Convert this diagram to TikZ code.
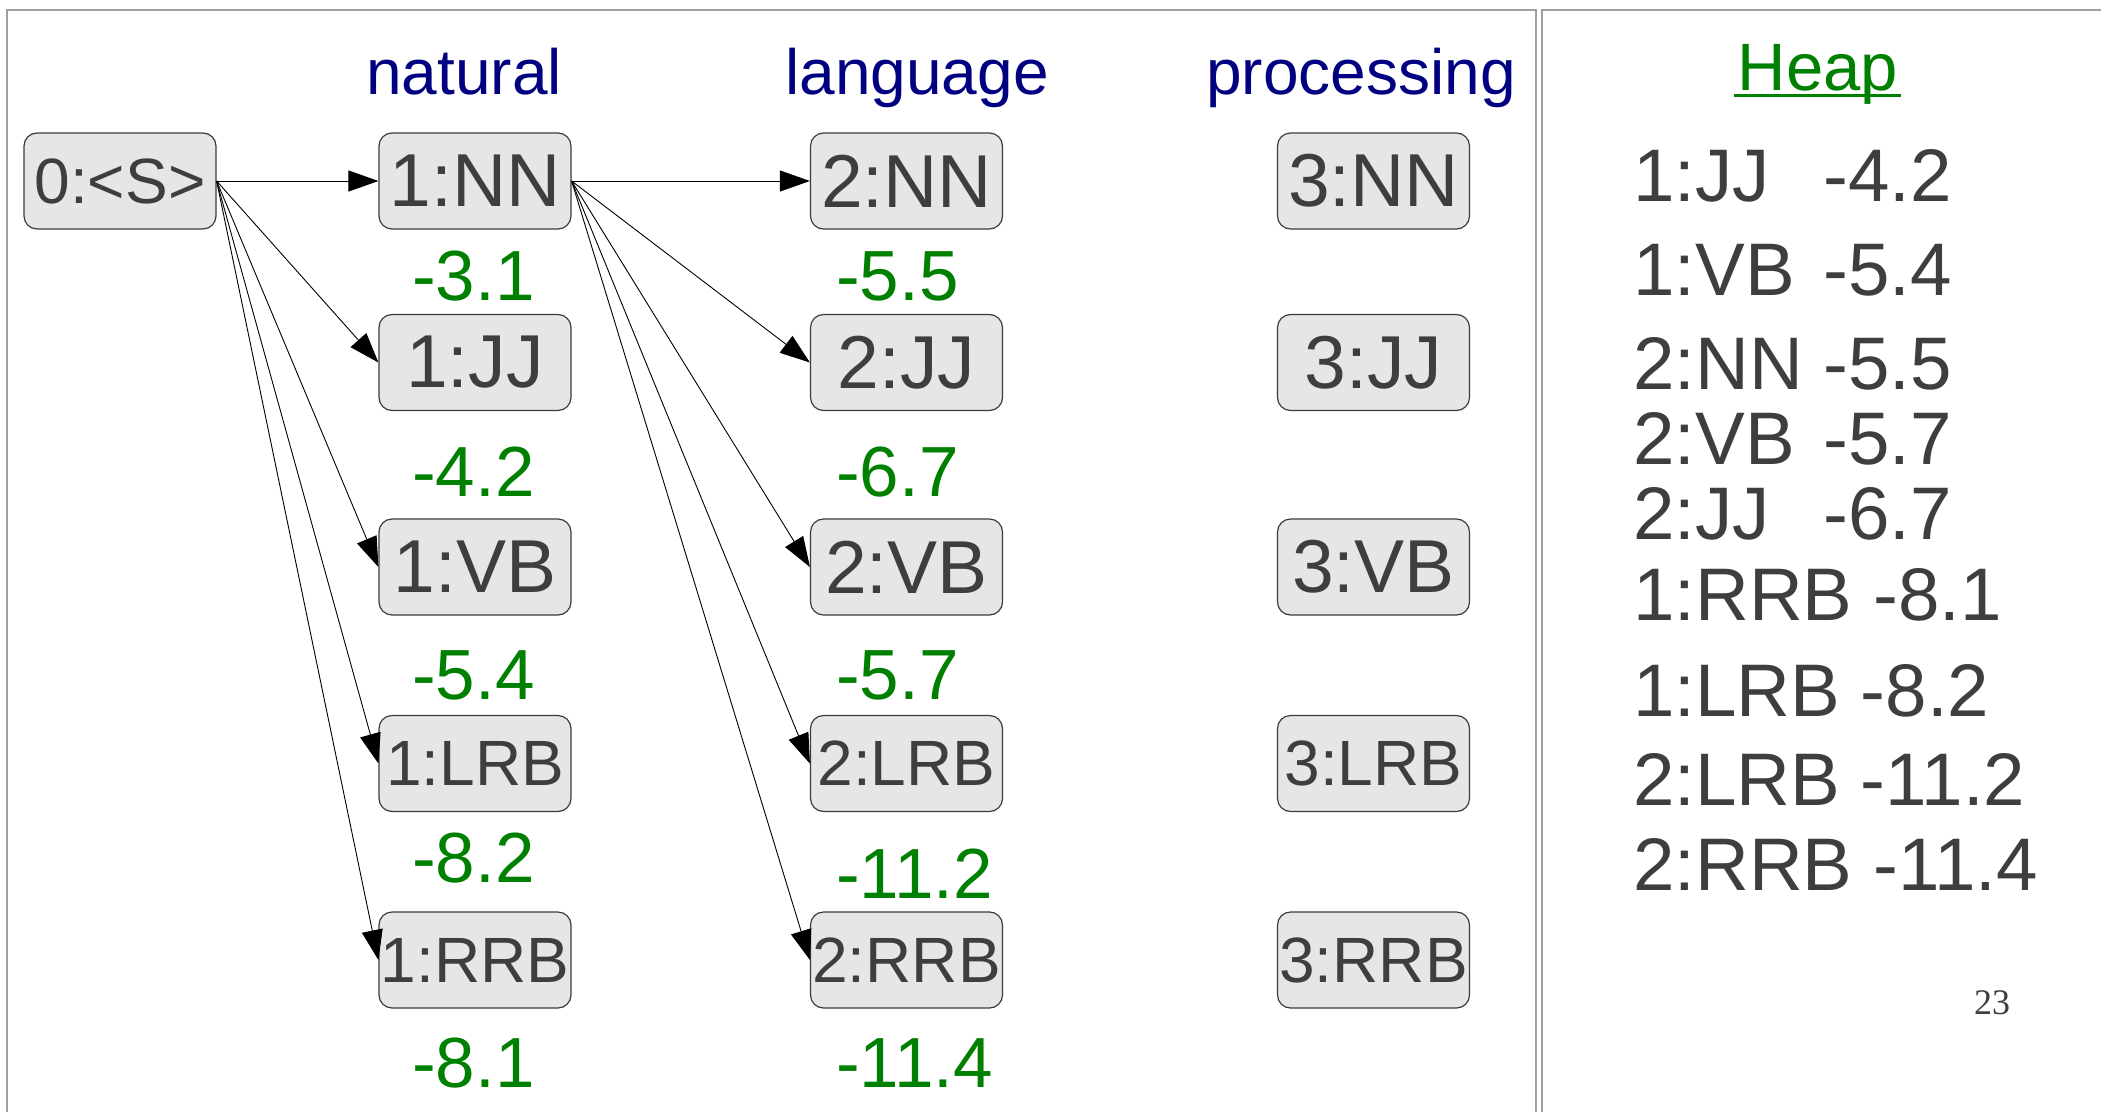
\documentclass[tikz,border=0pt]{standalone}
\usepackage{fontspec}
\setmainfont{Liberation Sans}
\newfontfamily\pageserif{Liberation Serif}
\usetikzlibrary{arrows.meta}
\definecolor{boxfill}{HTML}{E6E6E6}
\definecolor{boxline}{HTML}{3C3C3C}
\definecolor{txtgray}{HTML}{3E3E3E}
\definecolor{navyblue}{HTML}{000080}
\definecolor{scoregreen}{HTML}{008000}
\definecolor{framegray}{HTML}{A0A0A0}
\begin{document}
\begin{tikzpicture}[x=1pt,y=-1pt,
  tag/.style={draw=boxline, line width=1.2pt, fill=boxfill, rounded corners=13pt,
    minimum width=192pt, minimum height=96pt, inner sep=0pt, text=txtgray,
    font=\fontsize{75}{75}\selectfont},
  smalltag/.style={tag, font=\fontsize{64}{64}\selectfont},
  head/.style={text=navyblue, font=\fontsize{64}{64}\selectfont, inner sep=0pt, anchor=base},
  score/.style={text=scoregreen, font=\fontsize{71}{71}\selectfont, inner sep=0pt, anchor=base west},
  heapline/.style={text=txtgray, font=\fontsize{74.5}{74.5}\selectfont, inner sep=0pt, anchor=base west},
  edge/.style={draw=black, line width=0.9pt, -{Triangle[length=30pt,width=21pt]}}
]
\useasboundingbox[fill=white] (0,0) rectangle (2101,1111);
% panels
\draw[framegray, line width=1.4pt] (7,1130) -- (7,10) -- (1536,10) -- (1536,1130);
\draw[framegray, line width=1.4pt] (2120,10) -- (1542,10) -- (1542,1130);
% headers
\node[head] (hnat) at (464,94) {natural};
\node[head] (hlang) at (917,94) {language};
\node[head] (hproc) at (1361,94) {processing};
% nodes
\node[smalltag] (S) at (120,181) {0:<S>};
\node[tag] (aNN) at (475,181) {1:NN};
\node[tag] (aJJ) at (475,362.5) {1:JJ};
\node[tag] (aVB) at (475,567) {1:VB};
\node[smalltag] (aLRB) at (475,763.5) {1:LRB};
\node[smalltag] (aRRB) at (475,960) {1:RRB};
\node[tag] (bNN) at (906.5,181) {2:NN};
\node[tag] (bJJ) at (906.5,362.5) {2:JJ};
\node[tag] (bVB) at (906.5,567) {2:VB};
\node[smalltag] (bLRB) at (906.5,763.5) {2:LRB};
\node[smalltag] (bRRB) at (906.5,960) {2:RRB};
\node[tag] (cNN) at (1373.5,181) {3:NN};
\node[tag] (cJJ) at (1373.5,362.5) {3:JJ};
\node[tag] (cVB) at (1373.5,567) {3:VB};
\node[smalltag] (cLRB) at (1373.5,763.5) {3:LRB};
\node[smalltag] (cRRB) at (1373.5,960) {3:RRB};
% edges
\foreach \t in {aNN,aJJ,aVB,aLRB,aRRB} \draw[edge] (S.east) -- (\t.west);
\foreach \t in {bNN,bJJ,bVB,bLRB,bRRB} \draw[edge] (aNN.east) -- (\t.west);
% scores
\node[score] (s1) at (412,300) {-3.1};
\node[score] (s2) at (412,496) {-4.2};
\node[score] (s3) at (412,699) {-5.4};
\node[score] (s4) at (412,882) {-8.2};
\node[score] (s5) at (412,1087) {-8.1};
\node[score] (t1) at (836,300) {-5.5};
\node[score] (t2) at (836,496) {-6.7};
\node[score] (t3) at (836,699) {-5.7};
\node[score] (t4) at (836,898) {-11.2};
\node[score] (t5) at (836,1087) {-11.4};
% heap
\node[text=scoregreen, font=\fontsize{67}{67}\selectfont, inner sep=0pt, anchor=base] (heap) at (1818,90.7) {Heap};
\draw[scoregreen, line width=3.3pt] (1734,95.5) -- (1901,95.5);
\node[heapline] (h1) at (1633,201) {1:JJ};
\node[heapline] (h1v) at (1823,201) {-4.2};
\node[heapline] (h2) at (1633,295) {1:VB};
\node[heapline] (h2v) at (1823,295) {-5.4};
\node[heapline] (h3) at (1633,389) {2:NN};
\node[heapline] (h3v) at (1823,389) {-5.5};
\node[heapline] (h4) at (1633,464) {2:VB};
\node[heapline] (h4v) at (1823,464) {-5.7};
\node[heapline] (h5) at (1633,539) {2:JJ};
\node[heapline] (h5v) at (1823,539) {-6.7};
\node[heapline] (h6) at (1633,620) {1:RRB -8.1};
\node[heapline] (h7) at (1633,716) {1:LRB -8.2};
\node[heapline] (h8) at (1633,805) {2:LRB -11.2};
\node[heapline] (h9) at (1633,890) {2:RRB -11.4};
% page number
\node[text=txtgray, font=\pageserif\fontsize{36}{36}\selectfont, inner sep=0pt] (pg) at (1992,1003) {23};
\end{tikzpicture}
\end{document}
